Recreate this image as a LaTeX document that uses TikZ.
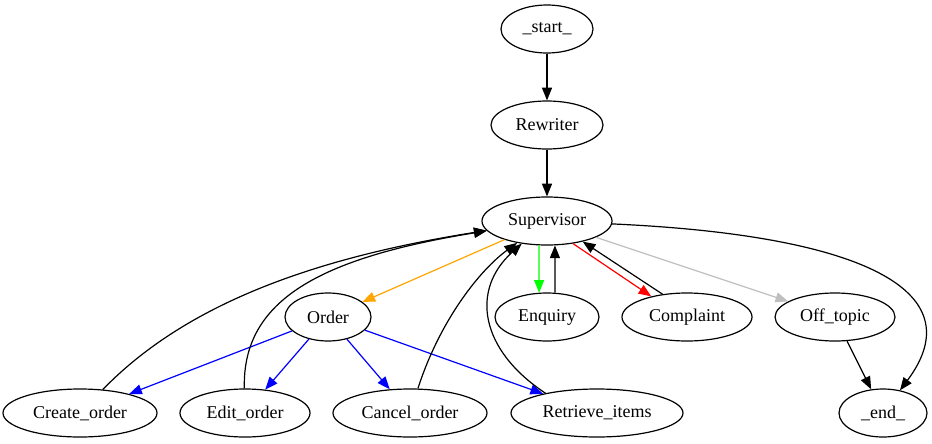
\documentclass[tikz,border=0pt]{standalone}
\usepackage{fontspec}
\setmainfont{Liberation Serif}
\usetikzlibrary{shapes.geometric,arrows.meta}
\definecolor{gvorange}{RGB}{255,165,0}

\begin{document}
\begin{tikzpicture}[x=0.75pt,y=-0.75pt,
  st/.style={draw,ellipse,line width=0.9pt,minimum height=36pt,inner sep=0pt,
    font=\fontsize{13.5}{16}\selectfont},
  ed/.style={line width=0.9pt,-{Triangle[length=9.5pt,width=7.5pt]}}]
  \useasboundingbox (0,0) rectangle (932,443);
  \node[st,minimum width=69pt] (start) at (547,29) {\_start\_};
  \node[st,minimum width=84pt] (rewriter) at (547,125) {Rewriter};
  \node[st,minimum width=97.5pt] (sup) at (547,221) {Supervisor};
  \node[st,minimum width=64.5pt] (order) at (328,317) {Order};
  \node[st,minimum width=78pt] (enq) at (547,317) {Enquiry};
  \node[st,minimum width=97.5pt] (compl) at (687,317) {Complaint};
  \node[st,minimum width=90pt] (offt) at (835,317) {Off\_topic};
  \node[st,minimum width=115.5pt] (create) at (80,413) {Create\_order};
  \node[st,minimum width=97.5pt] (edit) at (245,413) {Edit\_order};
  \node[st,minimum width=115.5pt] (cancel) at (410,413) {Cancel\_order};
  \node[st,minimum width=129pt] (retrieve) at (597,413) {Retrieve\_items};
  \node[st,minimum width=66pt] (fin) at (883,413) {\_end\_};
  \draw[ed] (start) -- (rewriter);
  \draw[ed] (rewriter) -- (sup);
  \draw[ed,gvorange] (sup) -- (order);
  \draw[ed,green] (sup.-108) -- (enq.108);
  \draw[ed] (enq.72) -- (sup.-72);
  \draw[ed,red] (sup.-41) -- (compl.150);
  \draw[ed] (compl.137) -- (sup.-30);
  \draw[ed,lightgray] (sup) -- (offt);
  \draw[ed] (sup) .. controls (860,235) and (975,290) .. (fin);
  \draw[ed] (offt) -- (fin);
  \foreach \t in {create,edit,cancel,retrieve}
    \draw[ed,blue] (order) -- (\t);
  \draw[ed] (create) .. controls (180,310) and (300,260) .. (sup);
  \draw[ed] (edit) .. controls (242,300) and (320,258) .. (sup);
  \draw[ed] (cancel) .. controls (440,320) and (480,270) .. (sup);
  \draw[ed] (retrieve.159) .. controls (480,350) and (470,290) .. (sup);
\end{tikzpicture}
\end{document}
